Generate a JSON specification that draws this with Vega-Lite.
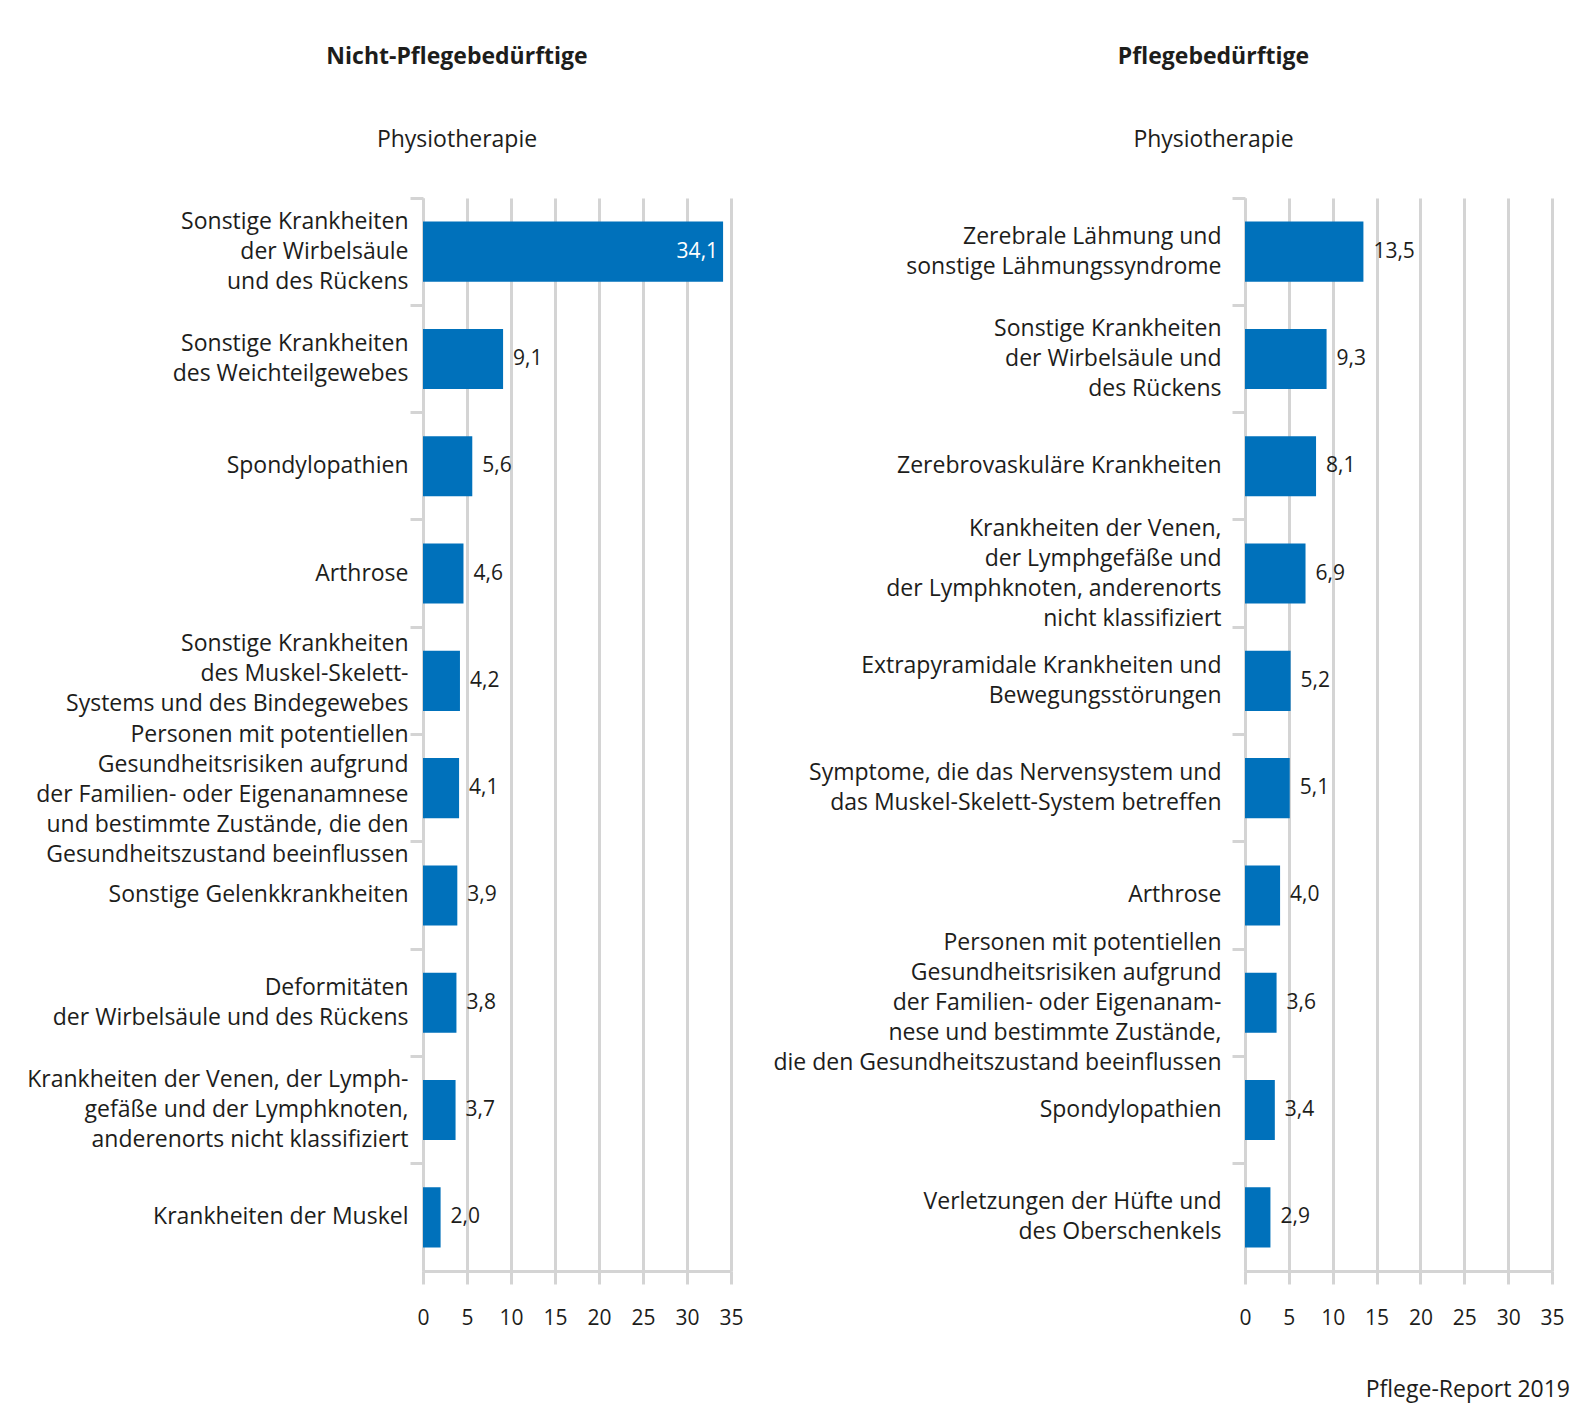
{
  "$schema": "https://vega.github.io/schema/vega-lite/v6.json",
  "background": "white",
  "padding": {"left": 15, "top": 45, "right": 20, "bottom": 25},
  "title": {"text": "Pflege-Report 2019", "orient": "bottom", "anchor": "end", "frame": "bounds", "fontWeight": "normal", "fontSize": 23, "offset": 51, "dx": 6, "color": "#1d1d1b"},
  "datasets": {
    "nicht": [
      {"kategorie": "Sonstige Krankheiten|der Wirbelsäule|und des Rückens", "wert": 34.1},
      {"kategorie": "Sonstige Krankheiten|des Weichteilgewebes", "wert": 9.1},
      {"kategorie": "Spondylopathien", "wert": 5.6},
      {"kategorie": "Arthrose", "wert": 4.6},
      {"kategorie": "Sonstige Krankheiten|des Muskel-Skelett-|Systems und des Bindegewebes", "wert": 4.2},
      {"kategorie": "Personen mit potentiellen|Gesundheitsrisiken aufgrund|der Familien- oder Eigenanamnese|und bestimmte Zustände, die den|Gesundheitszustand beeinflussen", "wert": 4.1},
      {"kategorie": "Sonstige Gelenkkrankheiten", "wert": 3.9},
      {"kategorie": "Deformitäten|der Wirbelsäule und des Rückens", "wert": 3.8},
      {"kategorie": "Krankheiten der Venen, der Lymph-|gefäße und der Lymphknoten,|anderenorts nicht klassifiziert", "wert": 3.7},
      {"kategorie": "Krankheiten der Muskel", "wert": 2.0}
    ],
    "pflege": [
      {"kategorie": "Zerebrale Lähmung und|sonstige Lähmungssyndrome", "wert": 13.5},
      {"kategorie": "Sonstige Krankheiten|der Wirbelsäule und|des Rückens", "wert": 9.3},
      {"kategorie": "Zerebrovaskuläre Krankheiten", "wert": 8.1},
      {"kategorie": "Krankheiten der Venen,|der Lymphgefäße und|der Lymphknoten, anderenorts|nicht klassifiziert", "wert": 6.9},
      {"kategorie": "Extrapyramidale Krankheiten und|Bewegungsstörungen", "wert": 5.2},
      {"kategorie": "Symptome, die das Nervensystem und|das Muskel-Skelett-System betreffen", "wert": 5.1},
      {"kategorie": "Arthrose", "wert": 4.0},
      {"kategorie": "Personen mit potentiellen|Gesundheitsrisiken aufgrund|der Familien- oder Eigenanam-|nese und bestimmte Zustände,|die den Gesundheitszustand beeinflussen", "wert": 3.6},
      {"kategorie": "Spondylopathien", "wert": 3.4},
      {"kategorie": "Verletzungen der Hüfte und|des Oberschenkels", "wert": 2.9}
    ]
  },
  "spacing": 26,
  "hconcat": [
    {
      "width": 308,
      "height": 1073,
      "title": {"text": "Nicht-Pflegebedürftige", "subtitle": "Physiotherapie", "dx": -120},
      "data": {"name": "nicht"},
      "encoding": {
        "y": {"field": "kategorie", "type": "nominal", "sort": null, "scale": {"paddingInner": 0, "paddingOuter": 0},
              "axis": {"title": null, "minExtent": 408, "maxExtent": 408,
                "labelOffset": {"condition": [
                  {"test": "indexof(datum.value, 'Bindegewebes') >= 0", "value": -37},
                  {"test": "indexof(datum.value, 'Eigenanamnese') >= 0", "value": -53},
                  {"test": "length(split(datum.value, '|')) == 2", "value": -15},
                  {"test": "length(split(datum.value, '|')) == 3", "value": -30},
                  {"test": "length(split(datum.value, '|')) == 4", "value": -45},
                  {"test": "length(split(datum.value, '|')) == 5", "value": -60}
                ], "value": 0}}},
        "x": {"field": "wert", "type": "quantitative", "scale": {"domain": [0, 35], "nice": false},
              "axis": {"title": null, "values": [0, 5, 10, 15, 20, 25, 30, 35]}}
      },
      "layer": [
        {"mark": {"type": "bar", "color": "#0071bb", "height": {"band": 0.56}}},
        {"transform": [{"filter": "datum.wert < 20"}],
         "mark": {"type": "text", "align": "left", "baseline": "middle", "dx": 10, "fontSize": 21, "color": "#1d1d1b"},
         "encoding": {"text": {"field": "wert", "type": "quantitative", "format": ".1f"}}},
        {"transform": [{"filter": "datum.wert >= 20"}],
         "mark": {"type": "text", "align": "right", "baseline": "middle", "dx": -5, "fontSize": 21, "color": "white"},
         "encoding": {"text": {"field": "wert", "type": "quantitative", "format": ".1f"}}}
      ]
    },
    {
      "width": 307,
      "height": 1073,
      "title": {"text": "Pflegebedürftige", "subtitle": "Physiotherapie", "dx": -185},
      "data": {"name": "pflege"},
      "encoding": {
        "y": {"field": "kategorie", "type": "nominal", "sort": null, "scale": {"paddingInner": 0, "paddingOuter": 0},
              "axis": {"title": null, "minExtent": 475, "maxExtent": 475, "labelPadding": 11,
                "labelOffset": {"condition": [
                  {"test": "length(split(datum.value, '|')) == 2", "value": -15},
                  {"test": "length(split(datum.value, '|')) == 3", "value": -30},
                  {"test": "length(split(datum.value, '|')) == 4", "value": -45},
                  {"test": "length(split(datum.value, '|')) == 5", "value": -60}
                ], "value": 0}}},
        "x": {"field": "wert", "type": "quantitative", "scale": {"domain": [0, 35], "nice": false},
              "axis": {"title": null, "values": [0, 5, 10, 15, 20, 25, 30, 35]}}
      },
      "layer": [
        {"mark": {"type": "bar", "color": "#0071bb", "height": {"band": 0.56}}},
        {"mark": {"type": "text", "align": "left", "baseline": "middle", "dx": 10, "fontSize": 21, "color": "#1d1d1b"},
         "encoding": {"text": {"field": "wert", "type": "quantitative", "format": ".1f"}}}
      ]
    }
  ],
  "config": {
    "font": "Open Sans",
    "locale": {"number": {"decimal": ",", "thousands": ".", "grouping": [3], "currency": ["", " €"]}},
    "view": {"stroke": null},
    "title": {"fontSize": 23, "fontWeight": "bold", "color": "#1d1d1b", "subtitleFontSize": 23, "subtitleFontWeight": "normal", "subtitleColor": "#1d1d1b", "subtitlePadding": 60, "offset": 45, "anchor": "middle", "frame": "group"},
    "axisX": {"grid": true, "gridColor": "#d4d4d4", "gridWidth": 3, "domainColor": "#d4d4d4", "domainWidth": 3, "tickColor": "#d4d4d4", "tickWidth": 3, "tickSize": 13, "labelFontSize": 21, "labelColor": "#1d1d1b", "labelPadding": 23, "labelFlush": false},
    "axisY": {"grid": false, "domainColor": "#d4d4d4", "domainWidth": 3, "tickColor": "#d4d4d4", "tickWidth": 3, "tickSize": 13, "bandPosition": 0, "labelFontSize": 23, "labelColor": "#1d1d1b", "labelPadding": 2, "labelLimit": 0, "labelLineHeight": 30, "labelExpr": "split(datum.value, '|')"}
  }
}
